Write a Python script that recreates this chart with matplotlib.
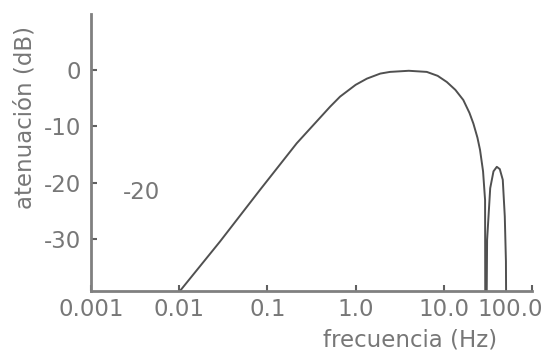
import numpy as np
import matplotlib
matplotlib.use("Agg")
import matplotlib.pyplot as plt
import matplotlib.transforms as mtransforms

# frequency response (Hz, dB)
freq = [0.0102, 0.029, 0.0824, 0.215, 0.513, 0.666, 1.0, 1.34, 1.9, 2.45,
        4.0, 6.4, 8.5, 10.8, 13.5, 16.6, 19.5, 21.6, 24.0, 25.7, 27.8,
        29.3, 29.6,
        29.9, 30.9, 33.5, 36.5, 39.8, 43.0, 46.5, 49.0, 50.5, 51.5]
atten = [-39.3, -30.5, -21.3, -13.0, -6.5, -4.7, -2.6, -1.5, -0.6, -0.3,
         -0.1, -0.3, -1.0, -2.1, -3.5, -5.3, -7.6, -9.5, -12.0, -14.2, -18.0,
         -23.1, -60.0,
         -60.0, -30.2, -21.0, -18.0, -17.2, -17.6, -19.5, -26.0, -34.0, -60.0]

xticks = [0.001, 0.01, 0.1, 1.0, 10.0, 100.0]
xticklabels = ["0.001", "0.01", "0.1", "1.0", "10.0", "100.0"]
yticks = [0, -10, -20, -30]
yticklabels = ["0", "-10", "-20", "-30"]

grey = "#808080"
txt = "#777777"
fs = 16.5

fig = plt.figure(figsize=(5.48, 3.51), dpi=100)
ax = fig.add_axes([0.166, 0.171, 0.805, 0.789])

ax.plot(freq, atten, color="#505050", lw=1.4)
ax.set_xscale("log")
ax.set_xlim(0.001, 100.0)
ax.set_ylim(-39.3, 10)

ax.set_xticks(xticks)
ax.set_xticklabels(xticklabels)
ax.set_yticks(yticks)
ax.set_yticklabels(yticklabels)
ax.minorticks_off()

for s in ["top", "right"]:
    ax.spines[s].set_visible(False)
for s in ["left", "bottom"]:
    ax.spines[s].set_color(grey)
    ax.spines[s].set_linewidth(2)

ax.tick_params(direction="in", length=4, width=1.5, color="#606060",
               labelsize=fs, labelcolor=txt)
ax.tick_params(axis="x", pad=5)
ax.tick_params(axis="y", pad=7)

# last x label sits a bit to the left, cut by the right edge
last = ax.get_xticklabels()[-1]
last.set_transform(last.get_transform() +
                   mtransforms.ScaledTranslation(-0.22, 0, fig.dpi_scale_trans))

ax.set_xlabel("frecuencia (Hz)", fontsize=fs, color=txt)
ax.xaxis.label.set_va("center")
ax.xaxis.set_label_coords(0.723, -0.178)
ax.set_ylabel("atenuación (dB)", fontsize=fs, color=txt)
ax.yaxis.label.set_va("center")
ax.yaxis.set_label_coords(-0.150, 0.628)

ax.text(0.0037, -21.7, "-20", fontsize=fs, color=txt, ha="center", va="center")

fig.savefig("out.png", dpi=100)
